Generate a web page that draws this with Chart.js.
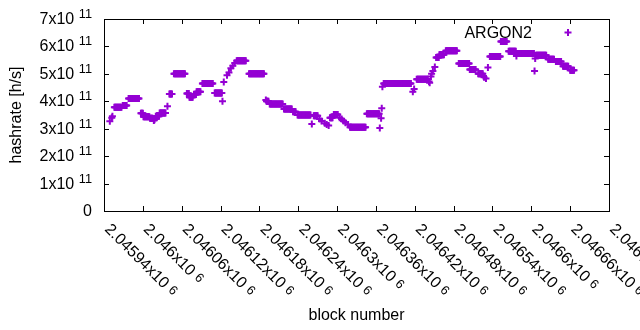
<!DOCTYPE html>
<html>
<head>
<meta charset="utf-8">
<script src="https://cdn.jsdelivr.net/npm/chart.js@4/dist/chart.umd.min.js"></script>
<style>
  html, body { margin: 0; padding: 0; background: #fff; }
</style>
</head>
<body>
<canvas id="chart" width="640" height="330"></canvas>
<script>
// flat runs of blocks that share one hashrate (block from, block to, rate)
const runStart = [2045956, 2045969, 2045978, 2045997, 2046001, 2046011, 2046020, 2046026, 2046041, 2046048,
                  2046068, 2046072, 2046079, 2046083, 2046092, 2046111, 2046145, 2046164, 2046191, 2046196,
                  2046218, 2046232, 2046239, 2046264, 2046289, 2046295, 2046320, 2046346, 2046372, 2046423,
                  2046453, 2046458, 2046468, 2046488, 2046505, 2046518, 2046536, 2046553, 2046565, 2046578,
                  2046607, 2046626, 2046638, 2046649, 2046660];
const runEnd   = [2045967, 2045975, 2045994, 2046000, 2046010, 2046015, 2046025, 2046035, 2046045, 2046065,
                  2046071, 2046077, 2046082, 2046089, 2046108, 2046122, 2046159, 2046187, 2046194, 2046216,
                  2046230, 2046236, 2046259, 2046270, 2046293, 2046301, 2046344, 2046365, 2046414, 2046440,
                  2046457, 2046465, 2046485, 2046504, 2046514, 2046525, 2046552, 2046562, 2046576, 2046604,
                  2046623, 2046635, 2046646, 2046657, 2046666];
const runRate  = [3.78e11, 3.85e11, 4.10e11, 3.56e11, 3.44e11, 3.38e11, 3.45e11, 3.57e11, 4.27e11, 5.00e11,
                  4.28e11, 4.15e11, 4.25e11, 4.35e11, 4.65e11, 4.30e11, 5.48e11, 5.00e11, 4.00e11, 3.90e11,
                  3.72e11, 3.62e11, 3.50e11, 3.47e11, 3.40e11, 3.52e11, 3.05e11, 3.55e11, 4.65e11, 4.80e11,
                  5.60e11, 5.70e11, 5.84e11, 5.38e11, 5.16e11, 5.00e11, 5.63e11, 6.18e11, 5.82e11, 5.74e11,
                  5.68e11, 5.53e11, 5.45e11, 5.28e11, 5.13e11];

// lone blocks between the runs
const singleBlock = [2045949, 2045952, 2045953, 2046017, 2046018, 2046038, 2046123, 2046125, 2046130, 2046133,
                     2046136, 2046139, 2046142, 2046190, 2046261, 2046273, 2046276, 2046281, 2046284, 2046287,
                     2046304, 2046307, 2046310, 2046313, 2046317, 2046366, 2046368, 2046369, 2046370, 2046417,
                     2046419, 2046442, 2046443, 2046445, 2046446, 2046448, 2046451, 2046527, 2046530, 2046533,
                     2046577, 2046605, 2046606];
const singleRate  = [3.27e11, 3.40e11, 3.45e11, 3.30e11, 3.33e11, 3.82e11, 4.00e11, 4.70e11, 4.95e11, 5.05e11,
                     5.20e11, 5.30e11, 5.40e11, 4.05e11, 3.17e11, 3.35e11, 3.28e11, 3.20e11, 3.15e11, 3.12e11,
                     3.40e11, 3.35e11, 3.28e11, 3.22e11, 3.15e11, 3.03e11, 3.38e11, 3.75e11, 4.53e11, 4.35e11,
                     4.45e11, 4.72e11, 4.68e11, 4.90e11, 5.00e11, 5.10e11, 5.25e11, 4.88e11, 4.83e11, 5.23e11,
                     5.65e11, 5.10e11, 5.56e11];

const xTickValues = [2045940, 2046000, 2046060, 2046120, 2046180, 2046240, 2046300,
                     2046360, 2046420, 2046480, 2046540, 2046600, 2046660, 2046720];
const xTickLabels = ['2.04594', '2.046', '2.04606', '2.04612', '2.04618', '2.04624', '2.0463',
                     '2.04636', '2.04642', '2.04648', '2.04654', '2.0466', '2.04666', '2.04672'];
const xTickExp = '6';
const yTickValues = [0, 1e11, 2e11, 3e11, 4e11, 5e11, 6e11, 7e11];
const yTickLabels = ['0', '1x10', '2x10', '3x10', '4x10', '5x10', '6x10', '7x10'];
const yTickExp = '11';

const seriesName = 'ARGON2';
const purple = '#9400d3';
const FONT = '"Liberation Sans", Arial, sans-serif';

const points = [];
for (let i = 0; i < runStart.length; i++) {
  for (let b = runStart[i]; b <= runEnd[i]; b++) points.push({x: b, y: runRate[i]});
}
singleBlock.forEach((b, i) => points.push({x: b, y: singleRate[i]}));

// gnuplot style frame, inward ticks, enhanced-text labels and key
const gnuplotFrame = {
  id: 'gnuplotFrame',
  afterDraw(chart) {
    const {ctx, chartArea: a, scales: {x, y}} = chart;
    ctx.save();
    ctx.strokeStyle = '#000';
    ctx.lineWidth = 1;
    ctx.strokeRect(a.left + 0.5, a.top + 0.5, a.right - a.left, a.bottom - a.top);

    ctx.beginPath();
    xTickValues.forEach(v => {
      const px = Math.round(x.getPixelForValue(v)) + 0.5;
      ctx.moveTo(px, a.bottom); ctx.lineTo(px, a.bottom - 5);
      ctx.moveTo(px, a.top); ctx.lineTo(px, a.top + 5);
    });
    yTickValues.forEach(v => {
      const py = Math.round(y.getPixelForValue(v)) + 0.5;
      ctx.moveTo(a.left, py); ctx.lineTo(a.left + 5, py);
      ctx.moveTo(a.right, py); ctx.lineTo(a.right - 5, py);
    });
    ctx.stroke();

    ctx.fillStyle = '#000';
    ctx.textBaseline = 'alphabetic';
    const big = '16px ' + FONT, small = '12.8px ' + FONT;

    // y tick labels, right aligned
    yTickValues.forEach((v, i) => {
      const py = y.getPixelForValue(v);
      const main = yTickLabels[i];
      if (v === 0) {
        ctx.font = big; ctx.textAlign = 'right';
        ctx.fillText(main, a.left - 12, py + 5);
        return;
      }
      ctx.font = big;
      const wm = ctx.measureText(main + ' ').width;
      ctx.font = small;
      const ws = ctx.measureText(yTickExp).width;
      const x0 = a.left - 12 - wm - ws;
      ctx.textAlign = 'left';
      ctx.font = big; ctx.fillText(main, x0, py + 5);
      ctx.font = small; ctx.fillText(yTickExp, x0 + wm, py - 1);
    });

    // x tick labels rotated down-right
    xTickValues.forEach((v, i) => {
      const px = x.getPixelForValue(v);
      ctx.save();
      ctx.translate(px, a.bottom + 19);
      ctx.rotate(Math.PI / 4);
      ctx.textAlign = 'left';
      ctx.font = big;
      const main = xTickLabels[i] + 'x10';
      const wm = ctx.measureText(main + ' ').width;
      ctx.fillText(main, 0, 0);
      ctx.font = small;
      ctx.fillText(xTickExp, wm, -2);
      ctx.restore();
    });

    // axis titles
    ctx.font = big;
    ctx.textAlign = 'center';
    ctx.textBaseline = 'middle';
    ctx.fillText('block number', (a.left + a.right) / 2, 316);
    ctx.save();
    ctx.translate(17, (a.top + a.bottom) / 2);
    ctx.rotate(-Math.PI / 2);
    ctx.fillText('hashrate [h/s]', 0, 0);
    ctx.restore();

    // key
    ctx.textAlign = 'right';
    ctx.textBaseline = 'alphabetic';
    ctx.fillText(seriesName, 532, 37.5);
    ctx.strokeStyle = purple;
    ctx.lineWidth = 2;
    ctx.beginPath();
    ctx.moveTo(564.5, 32.5); ctx.lineTo(571.5, 32.5);
    ctx.moveTo(568, 29); ctx.lineTo(568, 36);
    ctx.stroke();
    ctx.restore();
  }
};

new Chart(document.getElementById('chart'), {
  type: 'scatter',
  data: {
    datasets: [{
      label: seriesName,
      data: points,
      pointStyle: 'cross',
      pointRadius: 3.5,
      pointBorderWidth: 2,
      borderColor: purple,
      backgroundColor: purple
    }]
  },
  options: {
    responsive: false,
    animation: false,
    events: [],
    layout: { padding: { left: 104, top: 19, right: 31, bottom: 119 } },
    scales: {
      x: { type: 'linear', display: false, min: 2045940, max: 2046720 },
      y: { type: 'linear', display: false, min: 0, max: 7e11 }
    },
    plugins: {
      legend: { display: false },
      tooltip: { enabled: false }
    }
  },
  plugins: [gnuplotFrame]
});
</script>
</body>
</html>
